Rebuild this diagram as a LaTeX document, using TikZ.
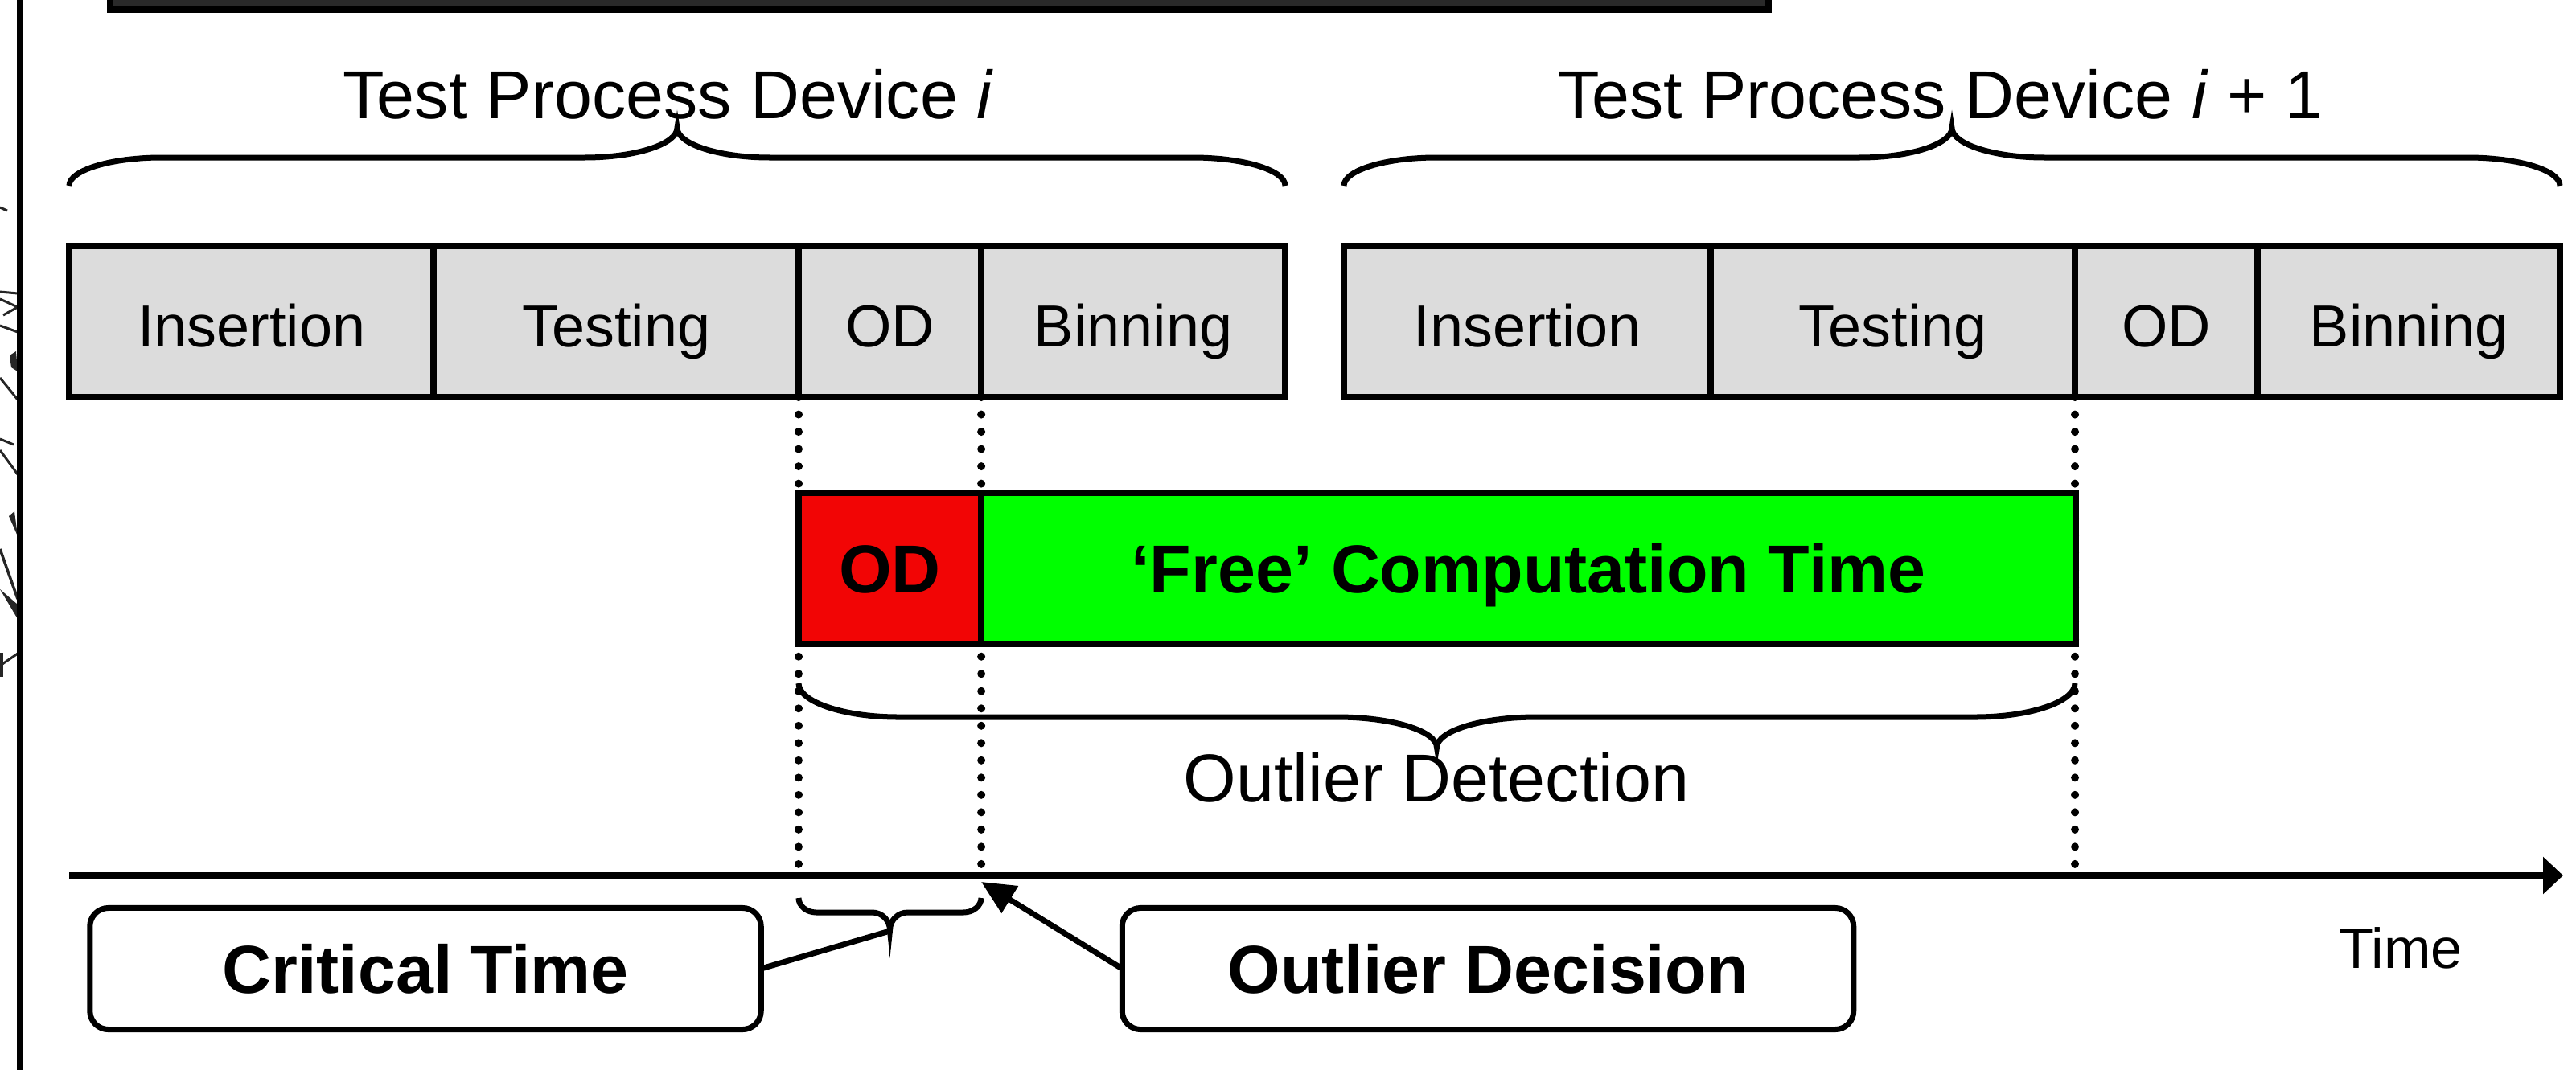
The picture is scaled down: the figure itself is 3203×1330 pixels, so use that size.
\documentclass[tikz,border=0pt]{standalone}
\usepackage{fontspec}
\setmainfont{Liberation Sans}
\usetikzlibrary{arrows.meta}
\definecolor{barfill}{RGB}{42,42,42}
\definecolor{boxgray}{RGB}{220,220,220}
\definecolor{odred}{RGB}{242,5,5}
\definecolor{freegreen}{RGB}{0,255,0}
% x1 x2 yEnd yFlat yTip w
\newcommand\tbrace[6]{%
 \draw[bracestyle] (#1,#3) .. controls (#1,{#3+0.55*(#4-#3)}) and ({#1+0.45*#6},#4) .. ({#1+#6},#4)
  -- ({(#1+#2)/2-#6},#4) .. controls ({(#1+#2)/2-0.45*#6},#4) and ({(#1+#2)/2},{#4+0.45*(#5-#4)}) .. ({(#1+#2)/2},#5)
  .. controls ({(#1+#2)/2},{#4+0.45*(#5-#4)}) and ({(#1+#2)/2+0.45*#6},#4) .. ({(#1+#2)/2+#6},#4)
  -- ({#2-#6},#4) .. controls ({#2-0.45*#6},#4) and (#2,{#3+0.55*(#4-#3)}) .. (#2,#3);}
\tikzset{
 every node/.style={outer sep=0pt},
 bracestyle/.style={line width=0.07cm},
 graybox/.style={draw, line width=0.08cm, fill=boxgray, minimum height=1.88cm, inner sep=0pt,
   font=\fontsize{21}{25}\selectfont, text height=0.66cm, text depth=0.04cm, anchor=west},
 colbox/.style={draw, line width=0.08cm, minimum height=1.88cm, inner sep=0pt,
   font=\bfseries\fontsize{24}{28}\selectfont, text height=0.65cm, text depth=0.05cm, anchor=west},
 callout/.style={draw, line width=0.07cm, rounded corners=0.23cm, minimum height=1.51cm, inner sep=0pt,
   font=\bfseries\fontsize{24}{28}\selectfont, text height=0.65cm, text depth=0.05cm},
 titletext/.style={font=\fontsize{24}{28}\selectfont, anchor=base, inner sep=0pt},
 dotline/.style={line width=0.1cm, dash pattern=on 0pt off 0.215cm, line cap=round},
 axisline/.style={line width=0.08cm, -{Triangle[length=0.25cm,width=0.45cm]}},
 ptr/.style={line width=0.07cm, -{Triangle[length=0.42cm,width=0.38cm]}},
 artline/.style={line width=0.03cm, black!85},
}
\begin{document}
\begin{tikzpicture}[x=0.01cm,y=-0.01cm]
\useasboundingbox (0,0) rectangle (3203,1330);
% frame fragments
\draw[line width=0.08cm, fill=barfill] (137,-30) rectangle (2199,12);
\begin{scope}
\clip (0,0) rectangle (22,1330);
\draw[artline] (0,258) -- (9,262);
\draw[artline] (0,363) -- (22,365);
\draw[artline] (0,372) -- (22,382);
\draw[artline] (22,382) -- (4,392);
\draw[artline] (0,405) -- (22,413);
\fill[black!85] (12,442) -- (20,437) -- (22,462) -- (14,457) -- cycle;
\draw[artline] (0,470) -- (22,497);
\draw[artline] (0,546) -- (17,553);
\draw[artline] (0,560) -- (22,590);
\fill[black!85] (11,642) -- (18,636) -- (22,667) -- cycle;
\draw[artline, line width=0.035cm] (0,683) -- (22,745);
\fill[black!85] (0,733) -- (22,752) -- (22,770) -- cycle;
\draw[artline] (0,828) -- (22,813);
\draw[artline] (2,812) -- (2,842);
\end{scope}
\draw[line width=0.07cm] (24.5,-10) -- (24.5,1340);

% axis coordinates
\coordinate (axL) at (86,1089);
\coordinate (axR) at (3187,1089);

% gray process boxes
\node[graybox, minimum width=4.53cm] (ins1) at (86,400) {Insertion};
\node[graybox, minimum width=4.54cm] (tst1) at (539,400) {Testing};
\node[graybox, minimum width=2.27cm] (od1) at (993,400) {OD};
\node[graybox, minimum width=3.78cm] (bin1) at (1220,400) {Binning};
\node[graybox, minimum width=4.56cm] (ins2) at (1671,400) {Insertion};
\node[graybox, minimum width=4.53cm] (tst2) at (2127,400) {Testing};
\node[graybox, minimum width=2.27cm] (od2) at (2580,400) {OD};
\node[graybox, minimum width=3.76cm] (bin2) at (2807,400) {Binning};

% dotted guides
\draw[dotline] (od1.south west) -- (od1.south west |- axL);
\draw[dotline] (od1.south east) -- (od1.south east |- axL);
\draw[dotline] (od2.south west) -- (od2.south west |- axL);

% red / green bar
\node[colbox, fill=odred, minimum width=2.27cm] (odr) at (993,707) {OD};
\node[colbox, fill=freegreen, minimum width=13.60cm] (free) at (1220,707) {‘Free’ Computation Time};

% braces
\tbrace{86}{1598}{231}{196}{159}{115}
\tbrace{1671}{3183}{231}{196}{159}{115}
\tbrace{993}{2580}{850}{892}{930}{124}
\tbrace{993}{1220}{1117}{1135}{1157}{22}
\coordinate (cbtip) at (1106.5,1158);

% titles
\node[titletext] (t1) at (831,147) {Test Process Device \textit{i}};
\node[titletext] (t2) at (2413,147) {Test Process Device \textit{i} + 1};
\node[titletext] (odl) at (1786,997) {Outlier Detection};
\node[titletext, font=\fontsize{20}{24}\selectfont] (time) at (2985,1204) {Time};

% axis
\draw[axisline] (axL) -- (axR);

% callouts
\node[callout, minimum width=8.34cm] (crit) at (529,1205) {Critical Time};
\node[callout, minimum width=9.09cm] (odec) at (1850,1205) {Outlier Decision};
\coordinate (odtip) at (1220,1097);
\draw[line width=0.07cm] (crit.east) -- (cbtip);
\draw[ptr] (odec.west) -- (odtip);
\end{tikzpicture}
\end{document}
